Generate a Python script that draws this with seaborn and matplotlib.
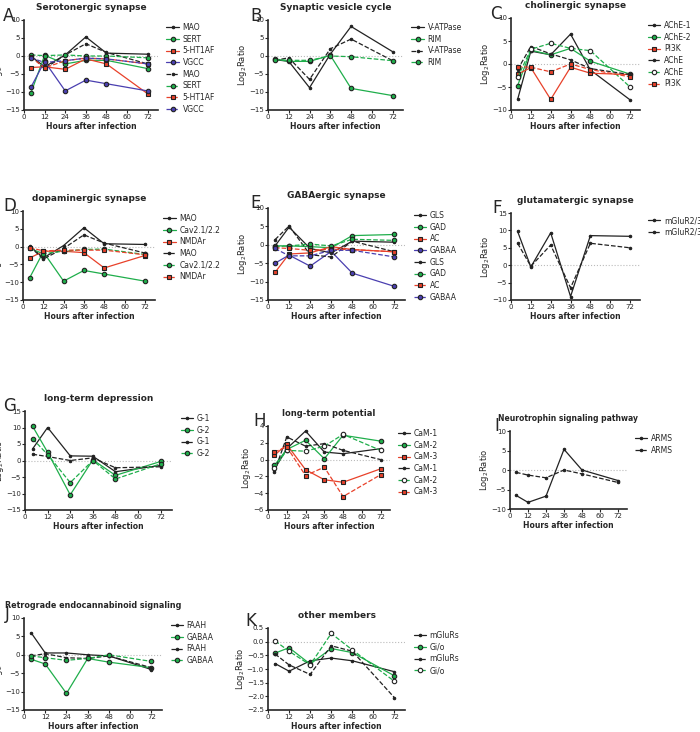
import matplotlib
matplotlib.use("Agg")
import matplotlib.pyplot as plt
import seaborn as sns

sns.set_theme(style="ticks")
plt.rcParams['font.family'] = ['DejaVu Sans']

hours = [4, 12, 24, 36, 48, 72]
BK, GR, RD, BL = "#222222", "#1fae4b", "#e8412a", "#4a3fb0"

A_labels = ["MAO", "SERT", "5-HT1AF", "VGCC", "MAO", "SERT", "5-HT1AF", "VGCC"]
A_vals = [[0, -3, 0.3, 5.3, 0.8, 0.5], [-10.3, 0.2, -2.2, -1.2, -1.2, -3.5],
          [-3.2, -3, -3.7, -0.8, -2.2, -10.5], [-8.7, -1.5, -9.7, -6.7, -7.7, -9.7],
          [0, -3.5, 0.3, 3.4, 1.0, -2.2], [0.3, 0.1, 0.3, 0, 0, -0.5],
          [-0.3, -3.3, -1.3, -0.6, -0.8, -2.2], [-0.5, -1.8, -1.3, -0.6, -0.8, -2.2]]
B_labels = ["V-ATPase", "RIM", "V-ATPase", "RIM"]
B_vals = [[-1, -1.5, -8.8, 0.5, 8.2, 1.2], [-0.8, -1.5, -1.5, 0.2, -9, -11],
          [-1.2, -0.5, -6.5, 2, 4.7, -1.3], [-1, -1.2, -1.2, 0, -0.2, -1.3]]
C_labels = ["AChE-1", "AChE-2", "PI3K", "AChE", "AChE", "PI3K"]
C_vals = [[-7.7, 2.8, 2, 6.5, -1.3, -7.8], [-4.7, 3, 2, 3.4, 0.6, -2.2],
          [-2.2, -0.8, -7.7, -0.7, -2, -2.3], [-1.2, 3.8, 2.2, 0.9, -1, -2.3],
          [-2.9, 3.2, 4.5, 3.4, 2.9, -5], [-0.6, -0.7, -1.7, 0, -1.2, -2.8]]
D_labels = ["MAO", "Cav2.1/2.2", "NMDAr", "MAO", "Cav2.1/2.2", "NMDAr"]
D_vals = [[0.2, -3.2, 0.3, 5.3, 0.8, 0.6], [-8.7, -1.5, -9.7, -6.7, -7.7, -9.7],
          [-3.2, -1.3, -1.3, -1.7, -6, -2.5], [0, -3.5, -0.5, 3.3, 1, -1.8],
          [-0.5, -2, -1.3, -0.8, -0.7, -2.2], [-0.3, -1.2, -1, -1, -1, -2.3]]
E_labels = ["GLS", "GAD", "AC", "GABAA", "GLS", "GAD", "AC", "GABAA"]
E_vals = [[-0.3, 4.8, -1, -2.2, 1.0, 0.7], [-0.3, -0.3, -0.5, -0.8, 2.5, 2.8],
          [-7.5, -2.5, -2.2, -0.5, -1.3, -1.9], [-5, -2.8, -5.8, -1.8, -7.7, -11.3],
          [1.4, 5.1, -2.7, -3.3, 1.0, -1.9], [-0.5, -0.3, 0.2, -0.3, 1.5, 1.2],
          [-0.8, -1, -1.5, -1.2, -1.3, -1.9], [-1, -3, -3, -1.5, -1.5, -3.3]]
F_labels = ["mGluR2/3", "mGluR2/3"]
F_vals = [[9.7, -0.5, 9.3, -9, 8.5, 8.3], [6.3, -0.3, 5.8, -6.5, 6.3, 5]]
G_labels = ["G-1", "G-2", "G-1", "G-2"]
G_vals = [[3.5, 10, 1.4, 1.3, -3.4, -1.5], [10.4, 2.5, -10.4, 0.2, -4.5, -0.3],
          [1.9, 1.2, 0, 0.8, -2.2, -1.9], [6.6, 1.8, -6.7, 0, -5.6, -1]]
H_labels = ["CaM-1", "CaM-2", "CaM-3", "CaM-1", "CaM-2", "CaM-3"]
H_vals = [[-1.2, 1.3, 3.4, 0.9, 0.7, 1.3], [-0.7, 1.2, 2.3, 0.1, 2.9, 2.2],
          [0.5, 1.8, -1.2, -2.4, -2.7, -1.1], [-1.5, 2.7, 1.6, 1.9, 1.1, 0],
          [-1.0, 1.1, 1.0, 1.6, 3.0, 1.1], [0.9, 1.5, -1.9, -0.9, -4.4, -1.8]]
I_labels = ["ARMS", "ARMS"]
I_vals = [[-6.5, -8.3, -6.7, 5.3, 0, -2.7], [-0.6, -1.3, -2, 0, -1, -3.2]]
J_labels = ["FAAH", "GABAA", "FAAH", "GABAA"]
J_vals = [[6, 0.5, 0.5, 0, -0.3, -4], [-1.2, -2.5, -10.5, -1, -2, -3.5],
          [-0.3, 0.3, -0.8, -1, -0.3, -3.5], [-0.3, -0.8, -1.5, -1, 0, -1.8]]
K_labels = ["mGluRs", "Gi/o", "mGluRs", "Gi/o"]
K_vals = [[-0.8, -1.08, -0.7, -0.6, -0.7, -1.1], [-0.42, -0.22, -0.82, -0.25, -0.4, -1.25],
          [-0.45, -0.85, -1.2, -0.15, -0.35, -2.05], [0.03, -0.35, -0.85, 0.3, -0.3, -1.45]]

W, H = 700, 732
fig = plt.figure(figsize=(7, 7.32), dpi=100)

def sty(col, dashed, open_=False):
    mk = {BK: ".", GR: "o", RD: "s", BL: "o"}[col]
    return dict(color=col, linestyle="--" if dashed else "-", marker=mk,
                markersize=3.2 if mk != "." else 3.5, markeredgecolor="#222222",
                markerfacecolor=("white" if open_ else col), markeredgewidth=0.8,
                linewidth=0.9)

def panel(box, letter, lpos, title, labels, vals, colors, ylim, yticks, opens=None, tsize=6.5):
    x0, y0, x1, y1 = box
    ax = fig.add_axes([x0 / W, 1 - y1 / H, (x1 - x0) / W, (y1 - y0) / H])
    n = len(vals) // 2
    for i, (lab, v) in enumerate(zip(labels, vals)):
        o = opens[i] if opens else False
        sns.lineplot(x=hours, y=v, ax=ax, label=lab, **sty(colors[i], i >= n, o))
    ax.axhline(0, color="#bbbbbb", linestyle=":", linewidth=0.8, zorder=0)
    ax.set_xlim(0, 78)
    ax.set_xticks([0, 12, 24, 36, 48, 60, 72])
    ax.set_ylim(*ylim)
    ax.set_yticks(yticks)
    ax.tick_params(labelsize=5, length=2, width=0.8, pad=1)
    for s in ["top", "right"]:
        ax.spines[s].set_visible(False)
    for s in ["left", "bottom"]:
        ax.spines[s].set_linewidth(1.2)
    ax.set_xlabel("Hours after infection", fontsize=5.5, fontweight="bold", labelpad=1)
    ax.set_ylabel("Log$_2$Ratio", fontsize=6, labelpad=0)
    ax.set_title(title, fontsize=tsize, fontweight="bold", pad=7)
    fig.text(lpos[0] / W, 1 - lpos[1] / H, letter, fontsize=12, va="top", ha="left")
    ax.legend(loc="upper left", bbox_to_anchor=(1.04, 1.0), frameon=False,
              fontsize=5.5, handlelength=1.6, handletextpad=0.5, labelspacing=0.35,
              borderaxespad=0)
    return ax

c4 = [BK, GR, RD, BL]
panel((24, 20, 158, 110), "A", (3, 7), "Serotonergic synapse", A_labels, A_vals,
      c4 + [BK, GR, RD, BL], (-15, 10), range(-15, 11, 5))
panel((268, 20, 403, 110), "B", (250, 7), "Synaptic vesicle cycle", B_labels, B_vals,
      [BK, GR, BK, GR], (-15, 10), range(-15, 11, 5))
panel((511, 18, 640, 110), "C", (490, 5), "cholinergic synapse", C_labels, C_vals,
      [BK, GR, RD, BK, GR, RD], (-10, 10), range(-10, 11, 5),
      opens=[False, False, False, False, True, False])
panel((23, 211, 155, 300), "D", (3, 197), "dopaminergic synapse", D_labels, D_vals,
      [BK, GR, RD, BK, GR, RD], (-15, 10), range(-15, 11, 5))
panel((268, 208, 405, 300), "E", (250, 194), "GABAergic synapse", E_labels, E_vals,
      c4 + c4, (-15, 10), range(-15, 11, 5))
panel((511, 213, 640, 300), "F", (492, 199), "glutamatergic synapse", F_labels, F_vals,
      [BK, BK], (-10, 15), range(-10, 16, 5))
panel((25, 411, 172, 510), "G", (3, 397), "long-term depression", G_labels, G_vals,
      [BK, GR, BK, GR], (-15, 15), range(-15, 16, 5))
panel((268, 426, 390, 510), "H", (253, 412), "long-term potential", H_labels, H_vals,
      [BK, GR, RD, BK, GR, RD], (-6, 4), range(-6, 5, 2),
      opens=[False, False, False, False, True, False], tsize=6)
panel((510, 431, 627, 509), "I", (494, 417), "Neurotrophin signaling pathway", I_labels, I_vals,
      [BK, BK], (-10, 10), range(-10, 11, 5), tsize=5.5)
panel((24, 618, 162, 710), "J", (5, 605), "Retrograde endocannabinoid signaling", J_labels, J_vals,
      [BK, GR, BK, GR], (-15, 10), range(-15, 11, 5), tsize=5.8)
panel((268, 628, 405, 710), "K", (245, 612), "other members", K_labels, K_vals,
      [BK, GR, BK, GR], (-2.5, 0.5), [-2.5, -2.0, -1.5, -1.0, -0.5, 0.0, 0.5],
      opens=[False, False, False, True])

fig.savefig("out.png", dpi=100, facecolor="white")
